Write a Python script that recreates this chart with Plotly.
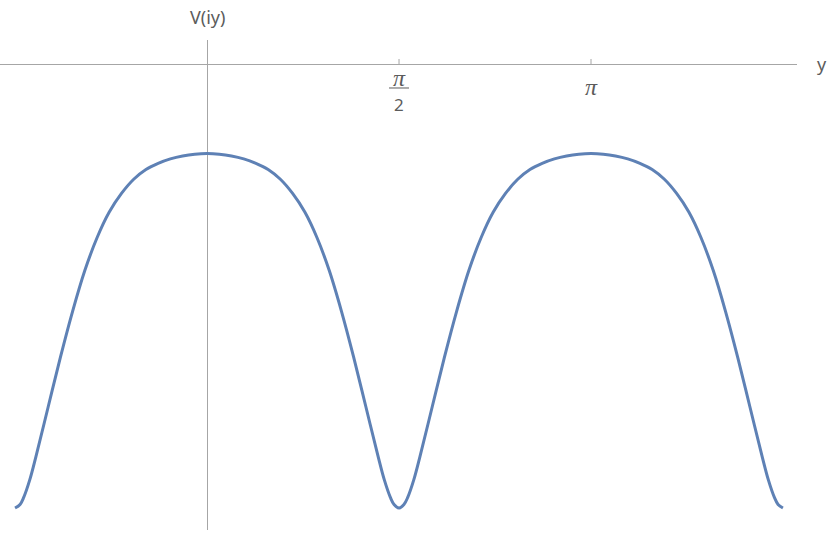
import math
import plotly.graph_objects as go

# y (radians) and V(iy) values
y_vals = [-1.571, -1.53, -1.50, -1.45, -1.40, -1.30, -1.20, -1.10, -1.00, -0.90,
          -0.80, -0.70, -0.60, -0.50, -0.40, -0.30, -0.20, -0.10, 0.00,
          0.10, 0.20, 0.30, 0.40, 0.50, 0.60, 0.70, 0.80, 0.90, 1.00,
          1.10, 1.20, 1.30, 1.40, 1.45, 1.50, 1.53, 1.571,
          1.611, 1.642, 1.692, 1.742, 1.842, 1.942, 2.042, 2.142, 2.242, 2.342,
          2.442, 2.542, 2.642, 2.742, 2.842, 2.942, 3.042, 3.142,
          3.242, 3.342, 3.442, 3.542, 3.642, 3.742, 3.842, 3.942, 4.042, 4.142,
          4.242, 4.342, 4.442, 4.542, 4.592, 4.642, 4.672, 4.712]
v_vals = [-5.00, -4.96, -4.88, -4.68, -4.42, -3.86, -3.30, -2.78, -2.32, -1.95,
          -1.66, -1.45, -1.29, -1.18, -1.11, -1.06, -1.027, -1.007, -1.00,
          -1.007, -1.027, -1.06, -1.11, -1.18, -1.29, -1.45, -1.66, -1.95, -2.32,
          -2.78, -3.30, -3.86, -4.42, -4.68, -4.88, -4.96, -5.00,
          -4.96, -4.88, -4.68, -4.42, -3.86, -3.30, -2.78, -2.32, -1.95, -1.66,
          -1.45, -1.29, -1.18, -1.11, -1.06, -1.027, -1.007, -1.00,
          -1.007, -1.027, -1.06, -1.11, -1.18, -1.29, -1.45, -1.66, -1.95, -2.32,
          -2.78, -3.30, -3.86, -4.42, -4.68, -4.88, -4.96, -5.00]

tick_vals = [math.pi / 2, math.pi]

X_RANGE = [-1.694, 4.827]
Y_RANGE = [-5.248, 0.282]
AXIS_COLOR = "#a6a6a6"
TEXT_COLOR = "#5c5c5c"
FONT = "Noto Sans"
PI_FONT = "Liberation Serif"

fig = go.Figure()
fig.add_trace(go.Scatter(
    x=y_vals, y=v_vals, mode="lines",
    line=dict(color="#5E81B5", width=3, shape="spline", smoothing=1.0),
    hoverinfo="skip", showlegend=False,
))

shapes = []
for tv in tick_vals:
    shapes.append(dict(type="line", xref="x", yref="y", x0=tv, x1=tv,
                       ysizemode="pixel", yanchor=0, y0=0, y1=6,
                       line=dict(color=AXIS_COLOR, width=1)))
# fraction bar of pi/2
shapes.append(dict(type="line", xref="x", yref="y", xsizemode="pixel", xanchor=tick_vals[0],
                   x0=-10, x1=10, ysizemode="pixel", yanchor=0, y0=-23, y1=-23,
                   line=dict(color=TEXT_COLOR, width=1)))

annotations = [
    dict(x=tick_vals[0], y=0, xref="x", yref="y", text="<i>π</i>", showarrow=False,
         yshift=-13, font=dict(family=PI_FONT, size=24, color=TEXT_COLOR)),
    dict(x=tick_vals[0], y=0, xref="x", yref="y", text="2", showarrow=False,
         yshift=-40, font=dict(family=FONT, size=17, color=TEXT_COLOR)),
    dict(x=tick_vals[1], y=0, xref="x", yref="y", text="<i>π</i>", showarrow=False,
         yshift=-22, font=dict(family=PI_FONT, size=24, color=TEXT_COLOR)),
    dict(x=1, y=0, xref="paper", yref="y", text="y", showarrow=False, xanchor="left",
         xshift=18, yshift=1, font=dict(family=FONT, size=18, color=TEXT_COLOR)),
    dict(x=0, y=1, xref="x", yref="paper", text="V(iy)", showarrow=False,
         yanchor="bottom", yshift=9, font=dict(family=FONT, size=18, color=TEXT_COLOR)),
]

fig.update_layout(
    width=830, height=535,
    margin=dict(l=0, r=33, t=40, b=5, pad=0, autoexpand=False),
    paper_bgcolor="white", plot_bgcolor="white",
    xaxis=dict(range=X_RANGE, showgrid=False, showticklabels=False, ticks="",
               zeroline=True, zerolinecolor=AXIS_COLOR, zerolinewidth=1, showline=False,
               automargin=False),
    yaxis=dict(range=Y_RANGE, showgrid=False, showticklabels=False, ticks="",
               zeroline=True, zerolinecolor=AXIS_COLOR, zerolinewidth=1, showline=False,
               automargin=False),
    shapes=shapes,
    annotations=annotations,
)

fig.write_html("out.html", config={"displayModeBar": False},
               post_script="document.body.style.margin='0';document.body.style.overflow='hidden';")
